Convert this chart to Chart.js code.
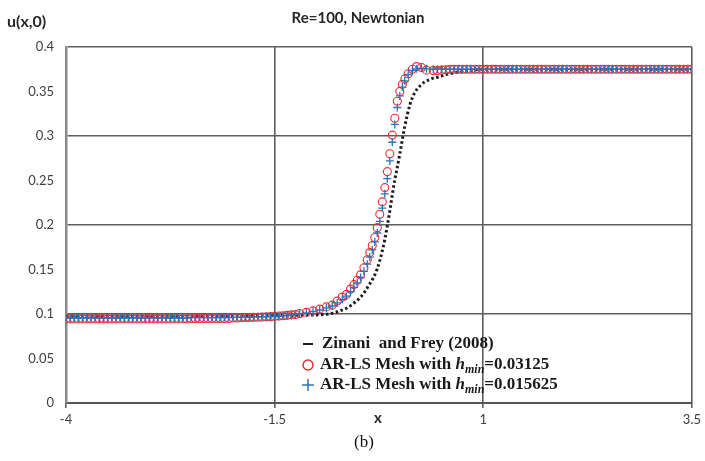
<!DOCTYPE html>
<html>
<head>
<meta charset="utf-8">
<script src="https://cdn.jsdelivr.net/npm/chart.js@4.4.1/dist/chart.umd.min.js"></script>
<style>
  body { margin: 0; background: #ffffff; }
  canvas { display: block; }
</style>
</head>
<body>
<canvas id="chart" width="705" height="461"></canvas>
<script>
// Series names (legend)
var seriesNames = ["Zinani  and Frey (2008)", "AR-LS Mesh with h_min=0.03125", "AR-LS Mesh with h_min=0.015625"];

// Reference curve (Zinani and Frey 2008), drawn as a dotted line
var xZinani = [-4, -3.5, -3, -2.5, -2, -1.5, -1.25,
  -1, -0.9, -0.8, -0.72, -0.64, -0.58, -0.52, -0.47, -0.42, -0.38,
  -0.34, -0.3, -0.27, -0.24, -0.21, -0.18, -0.15, -0.12, -0.09, -0.06,
  -0.03, 0, 0.03, 0.06, 0.09, 0.12, 0.15, 0.18, 0.21, 0.25,
  0.3, 0.35, 0.4, 0.45, 0.5, 0.55, 0.6, 0.65, 0.7, 0.75,
  0.8, 0.85, 0.9, 0.95,
  1, 1.5, 2, 2.5, 3, 3.5];
var yZinani = [0.0977, 0.0977, 0.0978, 0.0978, 0.0979, 0.0981, 0.0985,
  0.099, 0.0995, 0.101, 0.1035, 0.1065, 0.11, 0.1145, 0.119, 0.125, 0.131,
  0.137, 0.144, 0.151, 0.16, 0.171, 0.184, 0.199, 0.216, 0.234, 0.251,
  0.265, 0.28, 0.296, 0.311, 0.324, 0.335, 0.343, 0.349, 0.353, 0.357,
  0.361, 0.363, 0.365, 0.366, 0.3675, 0.369, 0.37, 0.371, 0.372, 0.3725,
  0.373, 0.374, 0.3745, 0.375,
  0.375, 0.375, 0.375, 0.375, 0.375, 0.375];

// Mesh nodes shared by both AR-LS series
var xMesh = [-4, -3.95, -3.9, -3.85, -3.8, -3.75, -3.7, -3.65, -3.6, -3.55,
  -3.5, -3.45, -3.4, -3.35, -3.3, -3.25, -3.2, -3.15, -3.1, -3.05,
  -3, -2.95, -2.9, -2.85, -2.8, -2.75, -2.7, -2.65, -2.6, -2.55,
  -2.5, -2.45, -2.4, -2.35, -2.3, -2.25, -2.2, -2.15, -2.1, -2.05,
  -2, -1.95, -1.9, -1.85, -1.8, -1.75, -1.7, -1.65, -1.6, -1.55,
  -1.5, -1.45, -1.4, -1.35, -1.3, -1.25,
  -1.2, -1.12, -1.04, -0.96, -0.88, -0.81, -0.75, -0.69, -0.64, -0.59,
  -0.55, -0.51, -0.47, -0.43, -0.39, -0.36, -0.33, -0.3, -0.27, -0.24,
  -0.21, -0.18, -0.15, -0.12, -0.09, -0.06, -0.03, 0, 0.03, 0.06,
  0.1, 0.15, 0.2, 0.26, 0.32,
  0.4, 0.45, 0.5, 0.55, 0.6, 0.65, 0.7, 0.75, 0.8, 0.85,
  0.9, 0.95, 1, 1.05, 1.1, 1.15, 1.2, 1.25, 1.3, 1.35,
  1.4, 1.45, 1.5, 1.55, 1.6, 1.65, 1.7, 1.75, 1.8, 1.85,
  1.9, 1.95, 2, 2.05, 2.1, 2.15, 2.2, 2.25, 2.3, 2.35,
  2.4, 2.45, 2.5, 2.55, 2.6, 2.65, 2.7, 2.75, 2.8, 2.85,
  2.9, 2.95, 3, 3.05, 3.1, 3.15, 3.2, 3.25, 3.3, 3.35,
  3.4, 3.45, 3.5];

// h_min = 0.03125 (red circles)
var yCoarse = [0.0945, 0.0945, 0.0945, 0.0945, 0.0945, 0.0945, 0.0945, 0.0945, 0.0945, 0.0945,
  0.0945, 0.0945, 0.0945, 0.0945, 0.0945, 0.0945, 0.0945, 0.0945, 0.0945, 0.0945,
  0.0945, 0.0945, 0.0945, 0.0945, 0.0945, 0.0945, 0.0945, 0.0945, 0.0945, 0.0945,
  0.095, 0.095, 0.095, 0.095, 0.095, 0.095, 0.095, 0.095, 0.095, 0.095,
  0.0955, 0.0955, 0.0958, 0.096, 0.096, 0.0962, 0.0964, 0.0966, 0.0968, 0.097,
  0.0973, 0.0977, 0.098, 0.0985, 0.099, 0.0995,
  0.1005, 0.1018, 0.1035, 0.1055, 0.108, 0.11, 0.1145, 0.119, 0.122, 0.128,
  0.133, 0.138, 0.144, 0.152, 0.161, 0.169, 0.177, 0.186, 0.197, 0.212,
  0.226, 0.242, 0.26, 0.28, 0.301, 0.32, 0.339, 0.35, 0.358, 0.364,
  0.37, 0.375, 0.378, 0.377, 0.374,
  0.3735, 0.3735, 0.374, 0.3745, 0.375, 0.375, 0.375, 0.375, 0.375, 0.375,
  0.375, 0.375, 0.375, 0.375, 0.375, 0.375, 0.375, 0.375, 0.375, 0.375,
  0.375, 0.375, 0.375, 0.375, 0.375, 0.375, 0.375, 0.375, 0.375, 0.375,
  0.375, 0.375, 0.375, 0.375, 0.375, 0.375, 0.375, 0.375, 0.375, 0.375,
  0.375, 0.375, 0.375, 0.375, 0.375, 0.375, 0.375, 0.375, 0.375, 0.375,
  0.375, 0.375, 0.375, 0.375, 0.375, 0.375, 0.375, 0.375, 0.375, 0.375,
  0.375, 0.375, 0.375];

// h_min = 0.015625 (blue crosses)
var yFine = [0.0955, 0.0955, 0.0955, 0.0955, 0.0955, 0.0955, 0.0955, 0.0955, 0.0955, 0.0955,
  0.0955, 0.0955, 0.0955, 0.0955, 0.0955, 0.0955, 0.0955, 0.0955, 0.0955, 0.0955,
  0.0955, 0.0955, 0.0955, 0.0955, 0.0955, 0.0955, 0.0955, 0.0955, 0.0955, 0.0955,
  0.096, 0.096, 0.096, 0.096, 0.096, 0.096, 0.096, 0.096, 0.096, 0.096,
  0.0962, 0.0963, 0.0964, 0.0965, 0.0966, 0.0967, 0.0968, 0.0969, 0.097, 0.0971,
  0.0973, 0.0975, 0.0978, 0.0982, 0.0987, 0.0993,
  0.1, 0.1012, 0.1028, 0.1045, 0.1068, 0.109, 0.1125, 0.1165, 0.12, 0.125,
  0.13, 0.135, 0.141, 0.148, 0.156, 0.164, 0.172, 0.181, 0.191, 0.204,
  0.219, 0.235, 0.252, 0.272, 0.293, 0.313, 0.332, 0.345, 0.355, 0.362,
  0.369, 0.3735, 0.3755, 0.376, 0.3755,
  0.375, 0.375, 0.375, 0.375, 0.375, 0.375, 0.375, 0.375, 0.375, 0.375,
  0.375, 0.375, 0.375, 0.375, 0.375, 0.375, 0.375, 0.375, 0.375, 0.375,
  0.375, 0.375, 0.375, 0.375, 0.375, 0.375, 0.375, 0.375, 0.375, 0.375,
  0.375, 0.375, 0.375, 0.375, 0.375, 0.375, 0.375, 0.375, 0.375, 0.375,
  0.375, 0.375, 0.375, 0.375, 0.375, 0.375, 0.375, 0.375, 0.375, 0.375,
  0.375, 0.375, 0.375, 0.375, 0.375, 0.375, 0.375, 0.375, 0.375, 0.375,
  0.375, 0.375, 0.375];

// Axis ranges / ticks
var xMin = -4, xMax = 3.5, xStep = 2.5;
var yMin = 0, yMax = 0.4, yStep = 0.05;

var corVermelho = "#ee2b30";
var corAzul = "#2e72b8";
var corPreto = "#1c1c1c";
var corGrade = "#5e5e5e";

function montarPontos(xs, ys) {
  var pts = [];
  for (var i = 0; i < xs.length; i++) {
    pts.push({ x: xs[i], y: ys[i] });
  }
  return pts;
}

// Draws a label, rendering "h_min" as italic h with subscript "min"
function desenharRotulo(ctx, texto, x, y) {
  var partes = texto.split("h_min");
  ctx.textBaseline = "middle";
  ctx.textAlign = "left";
  ctx.font = "bold 17px 'Liberation Serif'";
  ctx.fillText(partes[0], x, y);
  x += ctx.measureText(partes[0]).width;
  if (partes.length > 1) {
    ctx.font = "italic bold 17px 'Liberation Serif'";
    ctx.fillText("h", x, y);
    x += ctx.measureText("h").width;
    ctx.font = "italic bold 12px 'Liberation Serif'";
    ctx.fillText("min", x, y + 5);
    x += ctx.measureText("min").width;
    ctx.font = "bold 17px 'Liberation Serif'";
    ctx.fillText(partes[1], x, y);
  }
}

// Titles, axis labels and legend drawn on top of the chart
var textosPlugin = {
  id: "textos",
  afterDraw: function (chart) {
    var ctx = chart.ctx;
    ctx.save();
    ctx.fillStyle = "#262626";
    ctx.textBaseline = "middle";
    ctx.textAlign = "center";
    ctx.font = "bold 15px Lato";
    ctx.fillText("Re=100, Newtonian", 358, 18);
    ctx.textAlign = "left";
    ctx.font = "bold 16px Lato";
    ctx.fillText("u(x,0)", 7, 22);
    ctx.textAlign = "center";
    ctx.font = "bold 15px Lato";
    ctx.fillText("x", 378, 418);
    ctx.font = "17px 'Liberation Serif'";
    ctx.fillStyle = "#111111";
    ctx.fillText("(b)", 364, 443);

    // legend
    var lx = 308, ly = [344, 365, 385];
    ctx.strokeStyle = corPreto;
    ctx.lineWidth = 2;
    ctx.beginPath();
    ctx.moveTo(lx - 5, ly[0]);
    ctx.lineTo(lx + 5, ly[0]);
    ctx.stroke();
    ctx.strokeStyle = corVermelho;
    ctx.lineWidth = 1.5;
    ctx.beginPath();
    ctx.arc(lx, ly[1], 5, 0, Math.PI * 2);
    ctx.stroke();
    ctx.strokeStyle = corAzul;
    ctx.beginPath();
    ctx.moveTo(lx - 6, ly[2]);
    ctx.lineTo(lx + 6, ly[2]);
    ctx.moveTo(lx, ly[2] - 6);
    ctx.lineTo(lx, ly[2] + 6);
    ctx.stroke();
    ctx.fillStyle = "#1a1a1a";
    for (var i = 0; i < seriesNames.length; i++) {
      desenharRotulo(ctx, seriesNames[i], i === 0 ? 322 : 320, ly[i]);
    }
    ctx.restore();
  }
};

var ctx = document.getElementById("chart").getContext("2d");
var Grafico;

function inicializarGrafico() {
  if (Grafico) {
    Grafico.destroy();
  }
  Grafico = new Chart(ctx, {
    type: "scatter",
    data: {
      datasets: [
        {
          label: seriesNames[0],
          data: montarPontos(xZinani, yZinani),
          showLine: true,
          cubicInterpolationMode: "monotone",
          borderColor: corPreto,
          borderWidth: 3,
          borderDash: [2.5, 2.5],
          pointRadius: 0,
          order: 3,
        },
        {
          label: seriesNames[1],
          data: montarPontos(xMesh, yCoarse),
          showLine: false,
          pointStyle: "circle",
          pointRadius: 4,
          pointBorderWidth: 1.1,
          borderColor: corVermelho,
          backgroundColor: "rgba(0,0,0,0)",
          order: 2,
        },
        {
          label: seriesNames[2],
          data: montarPontos(xMesh, yFine),
          showLine: false,
          pointStyle: "cross",
          pointRadius: 4,
          pointBorderWidth: 1.3,
          borderColor: corAzul,
          order: 1,
        },
      ],
    },
    plugins: [textosPlugin],
    options: {
      responsive: false,
      animation: false,
      devicePixelRatio: 1,
      layout: { padding: { top: 47, right: 10.5, left: 0, bottom: 0 } },
      plugins: {
        legend: { display: false },
        title: { display: false },
        tooltip: { enabled: false },
      },
      scales: {
        x: {
          type: "linear",
          min: xMin,
          max: xMax,
          afterFit: function (scale) { scale.height = 58; },
          ticks: {
            stepSize: xStep,
            padding: 4,
            color: "#404040",
            font: { family: "Lato", size: 13 },
            maxRotation: 0,
          },
          grid: {
            color: function (c) { return c.index > 0 ? corGrade : "rgba(0,0,0,0)"; },
            lineWidth: 1.6,
            tickLength: 5,
            tickColor: corGrade,
          },
          border: { color: "#555555", width: 2 },
        },
        y: {
          min: yMin,
          max: yMax,
          afterFit: function (scale) { scale.width = 66; },
          ticks: {
            stepSize: yStep,
            padding: 12,
            color: "#404040",
            font: { family: "Lato", size: 13 },
            callback: function (v) { return String(Number(v.toFixed(2))); },
          },
          grid: {
            color: function (c) {
              var v = c.tick ? c.tick.value : 0;
              var k = v * 10;
              return v > 0 && Math.abs(k - Math.round(k)) < 1e-6 ? corGrade : "rgba(0,0,0,0)";
            },
            lineWidth: 1.6,
            drawTicks: false,
          },
          border: { color: "#8a8a8a", width: 2.5 },
        },
      },
    },
  });
}

inicializarGrafico();
</script>
</body>
</html>
